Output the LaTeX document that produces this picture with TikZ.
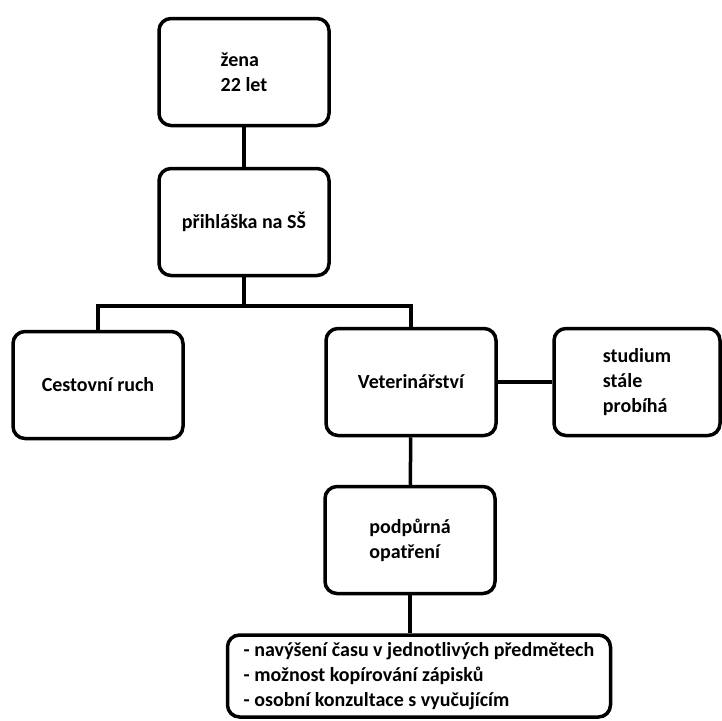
\documentclass[tikz,border=0pt]{standalone}
\usepackage{fontspec}
\setmainfont{Carlito}
\begin{document}
\begin{tikzpicture}[x=1pt,y=-1pt,text centered,
    box/.style={draw,line width=3.5pt,rounded corners=12pt,align=left,
      minimum width=170pt,minimum height=107pt,font=\fontsize{20}{25}\selectfont\bfseries}]
    \useasboundingbox (0,0) rectangle (722,720);
    \begin{scope}[line width=3.5pt]

    \node [box] (zena) at (244,72) {žena\\22 let};
    \node [box] (prihl) at (244,222) {přihláška na SŠ};

    \node [box] (cest) at (98,385) {Cestovní ruch};
    \node [box] (vet) at (411,382) {Veterinářství};
    \node [box,minimum width=166pt] (stud) at (637,382) {studium\\stále\\probíhá};

    \node [box] (podp) at (410,540) {podpůrná\\opatření};
    \node [box,minimum width=383pt,minimum height=82pt] (seznam) at (419,676)
      {- navýšení času v jednotlivých předmětech\\- možnost kopírování zápisků\\- osobní konzultace s vyučujícím};

    \coordinate (rozcesti) at (244,306);

    \draw (zena) -- (prihl);
    \draw (prihl) -- (rozcesti);
    \draw (cest.north) |- (rozcesti) -| (vet.north);
    \draw (vet) -- (stud);
    \draw (vet) -- (podp);
    \draw (podp.south) -- (podp.south |- seznam.north);

    \end{scope}
\end{tikzpicture}
\end{document}
